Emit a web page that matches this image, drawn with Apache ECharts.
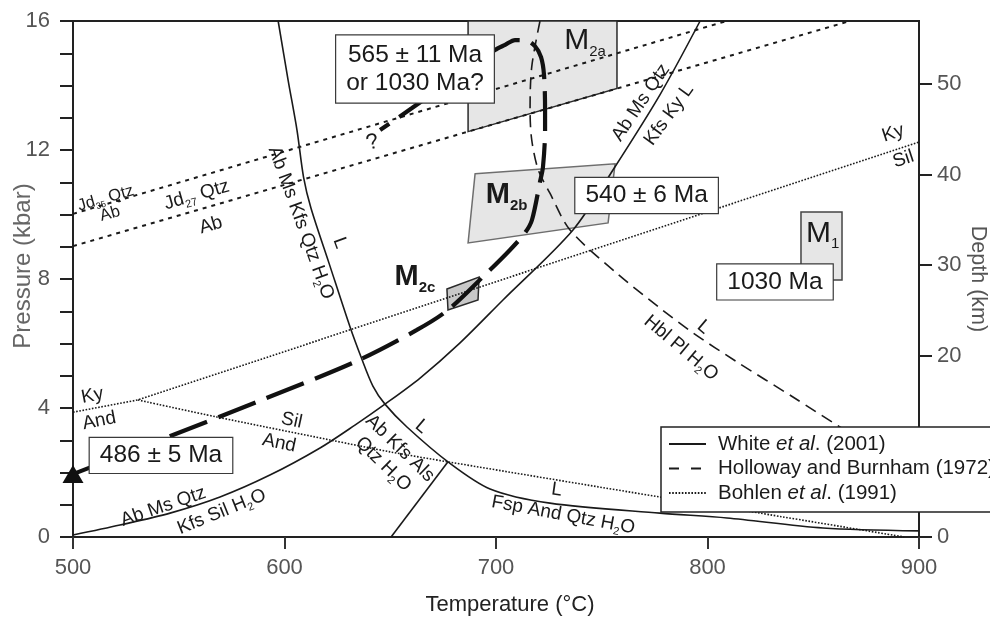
<!DOCTYPE html>
<html>
<head>
<meta charset="utf-8">
<script src="https://cdn.jsdelivr.net/npm/echarts@6.0.0/dist/echarts.min.js"></script>
<style>
html,body{margin:0;padding:0;background:#fff;}
#chart{width:990px;height:618px;}
</style>
</head>
<body>
<div id="chart"></div>
<script>
// ---------------- data (T in °C, P in kbar) ----------------
const tempTicks = [500, 600, 700, 800, 900];
const pressureTicks = [0, 4, 8, 12, 16];
const depthTicks = [0, 10, 20, 30, 40, 50];

// White et al. (2001) – solid curves
const whiteMeltCurve = [[597.0,16.0],[601.7,14.17],[605.9,12.62],[609.0,11.16],[612.5,10.20],[621.0,8.50],[631.0,6.51],[636.2,5.58],[641.8,4.68],[647.5,4.12],[657.9,3.41],[677.3,2.33],[697.2,1.49],[725.5,1.05],[777.5,0.74],[809.2,0.59],[854.6,0.28],[900.0,0.19]];
const whiteMsOutCurve = [[500,0.06],[522.2,0.37],[545.9,0.74],[569.5,1.24],[593.1,1.92],[616.8,2.76],[633.3,3.47],[647.5,4.12],[664.1,4.93],[683.0,6.02],[703.3,7.35],[736.4,9.52],[755.3,11.38],[777.5,13.71],[796.5,16.0]];
const whiteAlsLine = [[650.4,0],[677.3,2.33]];

// Holloway and Burnham (1972) – dashed
const hbHblCurve = [[720.8,16.0],[716.9,14.58],[716.1,13.24],[716.9,12.31],[720.0,11.38],[725.5,10.66],[735.0,9.52],[757.1,8.18],[777.5,7.10],[793.1,6.33],[813.9,5.43],[840.4,4.34],[862.6,3.41],[883.9,2.54]];

// Bohlen et al. (1991) – dotted
const bohlenKyLine = [[500,3.87],[530.7,4.25],[900,12.25]];
const bohlenSilAndLine = [[530.7,4.25],[568.1,3.72],[621.5,3.01],[649.9,2.64],[677.3,2.33],[777.5,1.24],[824.8,0.74],[893,0]];

// Jadeite + quartz = albite
const jd35Line = [[500,10.02],[809,16]];
const jd27Line = [[500,9.02],[867.4,16]];

// P-T path
const ptPath = [[500,1.95],[544.9,3.10],[587.0,4.19],[634.3,5.46],[662.6,6.42],[677.3,7.04],[696.2,8.22],[706.6,8.90],[713.7,9.43],[717.0,9.83],[720.8,11.01],[722.2,11.47],[723.2,12.62],[723.2,13.24],[722.7,14.33],[721.3,14.88],[718.4,15.22],[714.2,15.40],[709.0,15.41],[704.3,15.26],[699.5,15.10],[660.3,13.30],[645.2,12.62]];
const ptStart = [[500,1.95]];

// metamorphic stage fields
const boxM2a = [[686.8,16],[757.2,16],[757.2,13.91],[686.8,12.57]];
const boxM2b = [[690.1,11.26],[756.3,11.57],[753.0,9.74],[686.8,9.12]];
const boxM2c = [[676.8,7.69],[692.0,8.06],[691.5,7.35],[677.3,7.04]];
const boxM1  = [[844.2,10.08],[863.6,10.08],[863.6,7.97],[844.2,7.97]];

// annotations: anchor (T, P), text
const notes = [
  {at:[661.7,14.51], text:'565 ± 11 Ma\nor 1030 Ma?', kind:'box'},
  {at:[771.2,10.59], text:'540 ± 6 Ma', kind:'box'},
  {at:[831.9,7.91],  text:'1030 Ma', kind:'box'},
  {at:[541.6,2.53],  text:'486 ± 5 Ma', kind:'box'},
  {at:[742.1,15.38], text:'M{ms|2a}', kind:'M'},
  {at:[705.0,10.60], text:'M{msb|2b}', kind:'MB'},
  {at:[661.7,8.05],  text:'M{msb|2c}', kind:'MB'},
  {at:[854.4,9.40],  text:'M{ms|1}', kind:'M'},
  {at:[607.8,9.74],  text:'Ab Ms Kfs Qtz H{s|2}O', kind:'tag', rot:-70},
  {at:[626.2,9.12],  text:'L', kind:'tag', rot:-70},
  {at:[515.5,10.50], text:'Jd{ss|35} Qtz', kind:'small', rot:16},
  {at:[517.5,10.02], text:'Ab', kind:'small', rot:16},
  {at:[558.5,10.60], text:'Jd{s|27} Qtz', kind:'tag', rot:16},
  {at:[565.2,9.67],  text:'Ab', kind:'tag', rot:16},
  {at:[887.8,12.52], text:'Ky', kind:'tag', rot:18},
  {at:[892.6,11.71], text:'Sil', kind:'tag', rot:18},
  {at:[509.2,4.38],  text:'Ky', kind:'tag', rot:11},
  {at:[512.4,3.60],  text:'And', kind:'tag', rot:11},
  {at:[603.4,3.61],  text:'Sil', kind:'tag', rot:-12},
  {at:[597.5,2.91],  text:'And', kind:'tag', rot:-12},
  {at:[542.7,0.94],  text:'Ab Ms Qtz', kind:'tag', rot:19},
  {at:[570.3,0.78],  text:'Kfs Sil H{s|2}O', kind:'tag', rot:22},
  {at:[654.6,2.75],  text:'Ab Kfs Als', kind:'tag', rot:-44},
  {at:[646.7,2.26],  text:'Qtz H{s|2}O', kind:'tag', rot:-44},
  {at:[664.9,3.42],  text:'L', kind:'tag', rot:-40},
  {at:[728.7,1.46],  text:'L', kind:'tag', rot:-8},
  {at:[731.8,0.68],  text:'Fsp And Qtz H{s|2}O', kind:'tag', rot:-10.5},
  {at:[768.5,13.47], text:'Ab Ms Qtz', kind:'tag', rot:56},
  {at:[781.8,13.09], text:'Kfs Ky L', kind:'tag', rot:54},
  {at:[787.5,5.86],  text:'Hbl Pl H{s|2}O', kind:'tag', rot:-40},
  {at:[798.2,6.51],  text:'L', kind:'tag', rot:-40},
  {at:[641.6,12.23], text:'?', kind:'q', rot:15}
];

const KM_PER_KBAR = 3.56;

// ---------------- styling ----------------
const FONT = "'Liberation Sans', Arial, Helvetica, sans-serif";
const INK = '#1a1a1a';
const W = 'White et al. (2001)';
const HB = 'Holloway and Burnham (1972)';
const BO = 'Bohlen et al. (1991)';

const rich = {
  s:   {fontSize: 11, lineHeight: 11, verticalAlign: 'bottom', fontFamily: FONT, color: INK},
  ss:  {fontSize: 9,  lineHeight: 9,  verticalAlign: 'bottom', fontFamily: FONT, color: INK},
  ms:  {fontSize: 15, lineHeight: 15, verticalAlign: 'bottom', fontFamily: FONT, color: INK},
  msb: {fontSize: 15, lineHeight: 15, verticalAlign: 'bottom', fontFamily: FONT, color: INK, fontWeight: 'bold'}
};
const kindStyle = {
  box:   {fontSize: 24.5, lineHeight: 24, backgroundColor: '#fff', borderColor: '#3a3a3a', borderWidth: 1.2, padding: [5.5, 10]},
  M:     {fontSize: 30, lineHeight: 36},
  MB:    {fontSize: 29, lineHeight: 36, fontWeight: 'bold'},
  tag:   {fontSize: 19, lineHeight: 24},
  small: {fontSize: 16.5, lineHeight: 20},
  q:     {fontSize: 22, lineHeight: 24}
};

function lineSeries(name, data, lineStyle, extra) {
  return Object.assign({
    type: 'line', name: name, data: data, symbol: 'none', showSymbol: false,
    clip: false, silent: true, z: 2, lineStyle: lineStyle, emphasis: {disabled: true}
  }, extra || {});
}

const solid = {color: INK, width: 1.6, type: 'solid'};
const dashed = {color: INK, width: 1.6, type: [12, 7]};
const dotted = {color: INK, width: 1.6, type: [1.6, 1.6]};
const jdStyle = {color: INK, width: 2, type: [4, 5]};

const boxes = [boxM2a, boxM2b, boxM2c, boxM1];
const boxStyles = [
  {fill: '#e6e6e6', stroke: '#2a2a2a', lineWidth: 1.5},
  {fill: '#e6e6e6', stroke: '#6e6e6e', lineWidth: 1.5},
  {fill: '#c8c8c8', stroke: '#2a2a2a', lineWidth: 1.5},
  {fill: '#e6e6e6', stroke: '#444', lineWidth: 1.5}
];

const axisFont = {fontFamily: FONT, fontSize: 22, color: '#555'};

const option = {
  animation: false,
  backgroundColor: '#fff',
  grid: {left: 73, right: 71, top: 21, bottom: 81, show: true, borderColor: '#222', borderWidth: 2, backgroundColor: 'transparent', containLabel: false, outerBoundsMode: 'none'},
  xAxis: {
    type: 'value', min: tempTicks[0], max: tempTicks[tempTicks.length - 1], interval: 100,
    name: 'Temperature (°C)', nameLocation: 'middle', nameGap: 57, nameMoveOverlap: false,
    nameTextStyle: {fontFamily: FONT, fontSize: 22, color: '#222', padding: [0, 0, 0, 28]},
    axisLine: {show: true, onZero: false, lineStyle: {color: '#222', width: 2}},
    axisTick: {show: true, inside: false, length: 12, lineStyle: {color: '#333', width: 2}},
    axisLabel: Object.assign({margin: 20}, axisFont),
    splitLine: {show: false}
  },
  yAxis: [{
    type: 'value', min: pressureTicks[0], max: pressureTicks[pressureTicks.length - 1], interval: 4,
    position: 'left',
    name: 'Pressure (kbar)', nameLocation: 'middle', nameRotate: 90, nameGap: 38, nameMoveOverlap: false,
    nameTextStyle: {fontFamily: FONT, fontSize: 24, color: '#666', padding: [0, 0, 0, 26]},
    axisLine: {show: true, onZero: false, lineStyle: {color: '#222', width: 2}},
    axisTick: {show: true, inside: false, length: 13, lineStyle: {color: '#222', width: 2}},
    minorTick: {show: true, splitNumber: 4, length: 13, lineStyle: {color: '#222', width: 2}},
    axisLabel: Object.assign({margin: 23}, axisFont),
    splitLine: {show: false}, minorSplitLine: {show: false}
  }, {
    type: 'value', min: 0, max: pressureTicks[pressureTicks.length - 1] * KM_PER_KBAR, interval: 10,
    position: 'right',
    name: 'Depth (km)', nameLocation: 'middle', nameRotate: -90, nameGap: 48, nameMoveOverlap: false,
    nameTextStyle: {fontFamily: FONT, fontSize: 21.5, color: '#555'},
    axisLine: {show: true, onZero: false, lineStyle: {color: '#222', width: 2}},
    axisTick: {show: true, inside: false, length: 13, lineStyle: {color: '#222', width: 2}, customValues: depthTicks},
    axisLabel: Object.assign({margin: 18, customValues: depthTicks}, axisFont),
    splitLine: {show: false}
  }],
  legend: {
    show: true, orient: 'vertical', left: 661, top: 427, align: 'left',
    padding: [5, 12, 7, 7], itemGap: 0.5, itemWidth: 37, itemHeight: 24,
    backgroundColor: '#fff', borderColor: '#222', borderWidth: 1.5, borderRadius: 0,
    selectedMode: false, z: 20,
    itemStyle: {opacity: 0, borderWidth: 0},
    textStyle: {fontFamily: FONT, fontSize: 20.5, color: INK, lineHeight: 24, padding: [0, 0, 0, 7],
      rich: {i: {fontFamily: FONT, fontSize: 20.5, color: INK, fontStyle: 'italic', lineHeight: 24}}},
    formatter: function (n) {
      if (n === W) return 'White {i|et al}. (2001)';
      if (n === BO) return 'Bohlen {i|et al}. (1991)';
      return n;
    },
    data: [
      {name: W},
      {name: HB, lineStyle: {type: [10, 12]}},
      {name: BO}
    ]
  },
  series: [
    {
      type: 'custom', name: 'fields', coordinateSystem: 'cartesian2d', z: 1, silent: true, clip: false,
      data: boxes.map(function (b) { return b[0]; }),
      renderItem: function (params, api) {
        const pts = boxes[params.dataIndex].map(function (p) { return api.coord(p); });
        return {type: 'polygon', shape: {points: pts}, style: boxStyles[params.dataIndex]};
      }
    },
    lineSeries(W, whiteMeltCurve, solid, {smooth: 0.3}),
    lineSeries(W, whiteMsOutCurve, solid, {smooth: 0.3}),
    lineSeries(W, whiteAlsLine, solid),
    lineSeries(HB, hbHblCurve, dashed, {smooth: 0.3}),
    lineSeries(BO, bohlenKyLine, dotted),
    lineSeries(BO, bohlenSilAndLine, dotted, {smooth: 0.3}),
    lineSeries('Jd35', jd35Line, jdStyle),
    lineSeries('Jd27', jd27Line, jdStyle),
    lineSeries('P-T path', ptPath, {color: '#111', width: 4.2, type: [40, 12], cap: 'butt'}, {smooth: 0.3, z: 3}),
    {
      type: 'scatter', name: 'start', data: ptStart, symbol: 'triangle', symbolSize: [21, 18],
      itemStyle: {color: '#111', opacity: 1}, z: 4, clip: false, silent: true
    },
    {
      type: 'scatter', name: 'notes', z: 10, clip: false, silent: true, symbolSize: 1,
      itemStyle: {color: 'rgba(0,0,0,0)', opacity: 1}, emphasis: {disabled: true},
      data: notes.map(function (n) {
        const lab = Object.assign({
          show: true, position: 'inside', rotate: n.rot || 0, formatter: n.text,
          color: INK, opacity: 1, fontFamily: FONT, rich: rich
        }, kindStyle[n.kind]);
        if (n.text.indexOf('\n') >= 0) lab.lineHeight = 28;
        return {value: n.at, label: lab};
      })
    }
  ]
};

const chart = echarts.init(document.getElementById('chart'), null, {renderer: 'canvas'});
chart.setOption(option);
</script>
</body>
</html>
